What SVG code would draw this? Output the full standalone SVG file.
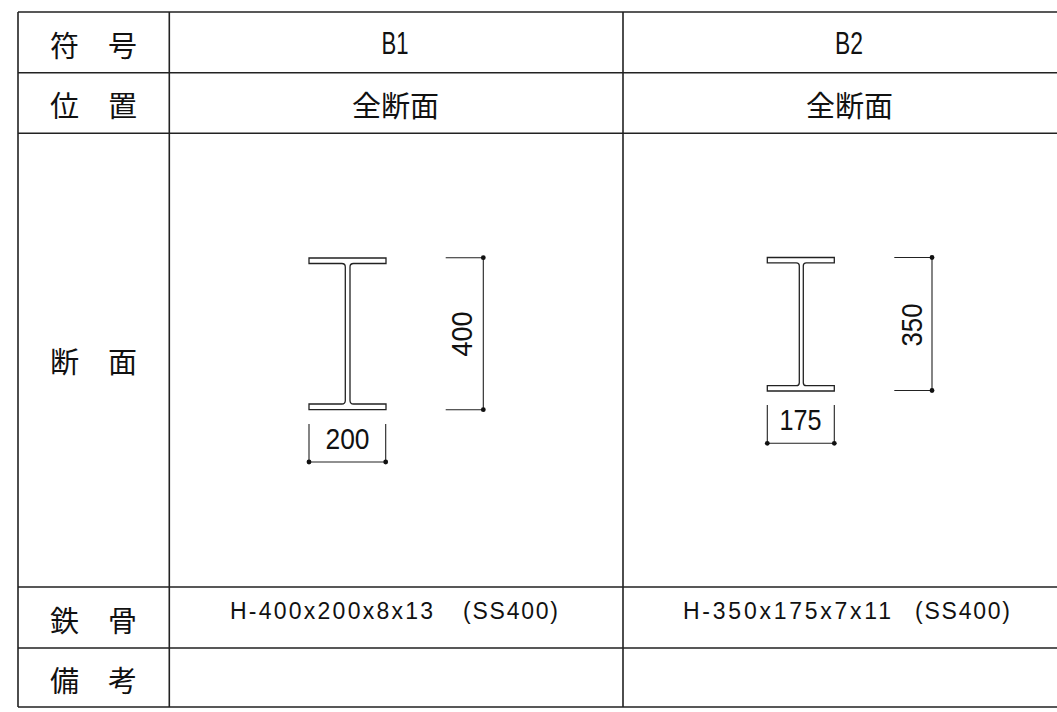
<svg xmlns="http://www.w3.org/2000/svg" width="1057" height="712" viewBox="0 0 1057 712">
<style>
.grid{stroke:#222;stroke-width:1.6;fill:none}
.beam{stroke:#222;stroke-width:1.3;fill:#fff}
.dim{stroke:#222;stroke-width:1.1;fill:none}
.dot{fill:#111}
.jp{font-family:"Noto Sans CJK JP","Noto Sans CJK SC",sans-serif;font-size:29px;fill:#111;text-anchor:middle;dominant-baseline:central}
.lat{font-family:"Liberation Sans",Arial,sans-serif;fill:#111;text-anchor:middle}
.h{font-size:31px}
.d{font-size:30px}
.s{font-size:23px;text-anchor:start}
</style>
<rect width="1057" height="712" fill="#fff"/>
<g id="table" class="grid">
<path d="M18,12 H1057 M18,72.7 H1057 M18,133.3 H1057 M18,587 H1057 M18,648 H1057 M18,707 H1057"/>
<path d="M18,12 V707 M169.3,12 V707 M623,12 V707"/>
</g>
<g id="labels">
<text class="jp" x="93.5" y="43.5">符　号</text>
<text class="jp" x="93.5" y="103.5">位　置</text>
<text class="jp" x="93.5" y="360">断　面</text>
<text class="jp" x="93.5" y="618.5">鉄　骨</text>
<text class="jp" x="93.5" y="678.5">備　考</text>
</g>
<g id="col-b1">
<text class="lat h" x="395" y="54" textLength="27" lengthAdjust="spacingAndGlyphs">B1</text>
<text class="jp" x="395.5" y="103.5">全断面</text>
<text class="lat s" x="230" y="619" textLength="203" lengthAdjust="spacing">H-400x200x8x13</text>
<text class="lat s" x="463" y="619" textLength="95" lengthAdjust="spacing">(SS400)</text>
</g>
<g id="col-b2">
<text class="lat h" x="849" y="54" textLength="28" lengthAdjust="spacingAndGlyphs">B2</text>
<text class="jp" x="849.5" y="103.5">全断面</text>
<text class="lat s" x="683" y="619" textLength="208" lengthAdjust="spacing">H-350x175x7x11</text>
<text class="lat s" x="915" y="619" textLength="95" lengthAdjust="spacing">(SS400)</text>
</g>
<g id="section-b1">
<path class="beam" d="M309,258 H386 V263.5 H353.5 Q350,263.5 350,267 V400.5 Q350,404 353.5,404 H386 V409.7 H309 V404 H341.8 Q345.3,404 345.3,400.5 V267 Q345.3,263.5 341.8,263.5 H309 Z"/>
</g>
<g id="section-b2">
<path class="beam" d="M767.3,257.5 H834.3 V262.8 H806.3 Q803.3,262.8 803.3,265.8 V382.7 Q803.3,385.7 806.3,385.7 H834.3 V391 H767.3 V385.7 H796.3 Q799.3,385.7 799.3,382.7 V265.8 Q799.3,262.8 796.3,262.8 H767.3 Z"/>
</g>
<g id="connectors">
<path class="dim" d="M445.7,257.7 H483.3 V409.7 H445.7 M309,424 V462 H385.7 V424"/>
<path class="dim" d="M894.3,257.5 H932 V390.5 H894.3 M767.3,405 V443.3 H834.3 V405"/>
<circle class="dot" cx="483.3" cy="257.7" r="2.4"/>
<circle class="dot" cx="483.3" cy="409.7" r="2.4"/>
<circle class="dot" cx="309" cy="462" r="2.4"/>
<circle class="dot" cx="385.7" cy="462" r="2.4"/>
<circle class="dot" cx="932" cy="257.5" r="2.4"/>
<circle class="dot" cx="932" cy="390.5" r="2.4"/>
<circle class="dot" cx="767.3" cy="443.3" r="2.4"/>
<circle class="dot" cx="834.3" cy="443.3" r="2.4"/>
</g>
<g id="dim-labels">
<text class="lat d" transform="translate(471.5,334) rotate(-90)" textLength="45" lengthAdjust="spacingAndGlyphs">400</text>
<text class="lat d" transform="translate(921.5,325) rotate(-90)" textLength="43" lengthAdjust="spacingAndGlyphs">350</text>
<text class="lat d" x="347.5" y="449" textLength="44" lengthAdjust="spacingAndGlyphs">200</text>
<text class="lat d" x="800.5" y="430" textLength="42" lengthAdjust="spacingAndGlyphs">175</text>
</g>
</svg>
